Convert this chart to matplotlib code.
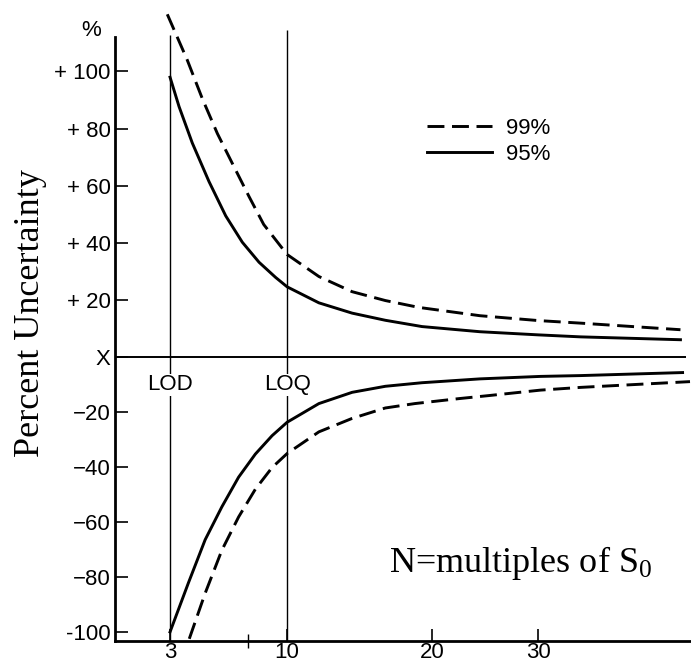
import numpy as np
import matplotlib
matplotlib.use("Agg")
import matplotlib.pyplot as plt

# ---------------- data ----------------
n_upper_95 = [3.0, 3.54, 4.33, 5.33, 6.33, 7.32, 8.32, 9.31, 10.0, 12.19,
              14.48, 16.77, 19.3, 24.5, 30.0, 34.0, 43.4]
pct_upper_95 = [98.0, 87.7, 75.0, 61.5, 49.5, 40.3, 33.3, 28.0, 24.7, 19.1,
                15.5, 13.0, 10.8, 9.0, 7.9, 7.2, 6.2]

n_upper_99 = [2.85, 4.03, 4.93, 5.83, 6.72, 7.72, 8.6, 10.0, 12.19, 14.48,
              16.77, 19.08, 24.5, 30.0, 34.0, 43.4]
pct_upper_99 = [120.0, 104.0, 90.5, 78.3, 67.9, 56.3, 46.5, 36.0, 28.3, 23.0,
                19.9, 17.5, 14.6, 12.9, 12.0, 9.7]

n_lower_95 = [3.0, 4.1, 5.1, 6.1, 7.1, 8.1, 9.1, 10.0, 12.19, 14.48, 16.77,
              19.3, 24.5, 30.2, 34.0, 43.6]
pct_lower_95 = [-100.0, -82.1, -66.4, -54.4, -43.6, -35.2, -28.5, -23.6, -16.8,
                -12.7, -10.5, -9.2, -7.8, -6.9, -6.6, -5.5]

n_lower_99 = [4.15, 5.1, 6.1, 7.1, 8.1, 9.1, 10.0, 12.19, 14.48, 16.77, 18.8,
              22.5, 25.3, 30.2, 34.0, 44.3]
pct_lower_99 = [-102.5, -85.9, -70.2, -58.1, -48.0, -40.1, -35.0, -27.1, -22.2,
                -18.4, -16.8, -15.0, -13.9, -11.9, -10.9, -8.8]

marker_n = [3, 10]
marker_labels = ["LOD", "LOQ"]

x_ticks = [3, 10, 20, 30]
x_tick_labels = ["3", "10", "20", "30"]
y_ticks = [100, 80, 60, 40, 20, 0, -20, -40, -60, -80, -100]
y_tick_labels = ["+ 100", "+ 80", "+ 60", "+ 40", "+ 20", "X",
                 "\u221220", "\u221240", "\u221260", "\u221280", "-100"]

series_labels = ["99%", "95%"]

# ---------------- style ----------------
plt.rcParams["font.family"] = ["Liberation Sans", "DejaVu Sans"]
plt.rcParams["mathtext.fontset"] = "custom"
plt.rcParams["mathtext.rm"] = "Liberation Serif"
plt.rcParams["mathtext.it"] = "Liberation Serif:italic"

fig = plt.figure(figsize=(6.91, 6.65), dpi=100)
ax = fig.add_axes([115 / 691, 24 / 665, 575 / 691, 631 / 665])

# hand-drawn (non-uniform) axis scales of the original figure
x_knots_n = np.array([-10.0, 0.0, 3.0, 10.0, 20.0, 30.0, 60.0])
x_knots_u = np.array([-183.0, 0.0, 55.0, 172.0, 317.0, 423.0, 741.0])


def fwd_x(n):
    return np.interp(np.asarray(n, float), x_knots_n, x_knots_u)


def inv_x(u):
    return np.interp(np.asarray(u, float), x_knots_u, x_knots_n)


def fwd_y(v):
    v = np.asarray(v, float)
    return np.where(v >= 0, v * 2.86, v * 2.745)


def inv_y(u):
    u = np.asarray(u, float)
    return np.where(u >= 0, u / 2.86, u / 2.745)


ax.set_xscale("function", functions=(fwd_x, inv_x))
ax.set_yscale("function", functions=(fwd_y, inv_y))

y_bottom, y_top = -103.3, 121.5
ax.set_xlim(0, 44.3)
ax.set_ylim(y_bottom, y_top)

lw_curve = 2.1
dash = (5.8, 2.6)

# reference lines
ax.hlines(0, 0, 43.9, color="black", lw=1.4, zorder=2)
ax.vlines(marker_n, y_bottom, [112.8, 114.5], color="black", lw=1.0, zorder=2)
for n, lab in zip(marker_n, marker_labels):
    ax.text(n, -10.0, lab, ha="center", va="center", fontsize=16,
            bbox=dict(facecolor="white", edgecolor="none", pad=0.5), zorder=3)

# curves
l99, = ax.plot(n_upper_99, pct_upper_99, color="black", lw=lw_curve,
               linestyle=(0, dash), clip_on=False, zorder=4)
ax.plot(n_lower_99, pct_lower_99, color="black", lw=lw_curve,
        linestyle=(0, dash), clip_on=False, zorder=4)
l95, = ax.plot(n_upper_95, pct_upper_95, color="black", lw=lw_curve,
               clip_on=False, zorder=4)
ax.plot(n_lower_95, pct_lower_95, color="black", lw=lw_curve,
        clip_on=False, zorder=4)

leg = ax.legend([l99, l95], series_labels, loc="upper left",
                bbox_to_anchor=(0.5426, 0.829), frameon=False, fontsize=16,
                handlelength=2.93, handletextpad=0.63, labelspacing=0.22,
                borderpad=0, borderaxespad=0)

# axes / spines
for s in ["top", "right"]:
    ax.spines[s].set_visible(False)
ax.spines["left"].set_linewidth(2.0)
ax.spines["bottom"].set_linewidth(2.0)
ax.spines["left"].set_bounds(y_bottom, 112.1)

ax.set_xticks(x_ticks)
ax.set_xticklabels(x_tick_labels)
ax.set_xticks([7.67], minor=True)
ax.set_yticks(y_ticks)
ax.set_yticklabels(y_tick_labels)
ax.set_yticks([], minor=True)
ax.tick_params(axis="both", which="major", direction="in", length=9,
               width=1.2, labelsize=16, color="black")
ax.tick_params(axis="x", which="major", pad=0.8)
ax.tick_params(axis="y", which="major", pad=3)
ax.tick_params(axis="x", which="minor", direction="inout", length=10, width=1.0)

# texts
ax.text(-0.042, 0.968, "%", transform=ax.transAxes, ha="center", va="center",
        fontsize=16)
ax.text(-0.1478, 0.52, "Percent Uncertainty", transform=ax.transAxes,
        rotation=90, ha="center", va="center", fontsize=26,
        family="Liberation Serif")
ax.text(17.0, -74.9, r"N=multiples of S$_\mathrm{0}$", ha="left", va="center",
        fontsize=26, family="Liberation Serif")

fig.savefig("out.png", dpi=100)
